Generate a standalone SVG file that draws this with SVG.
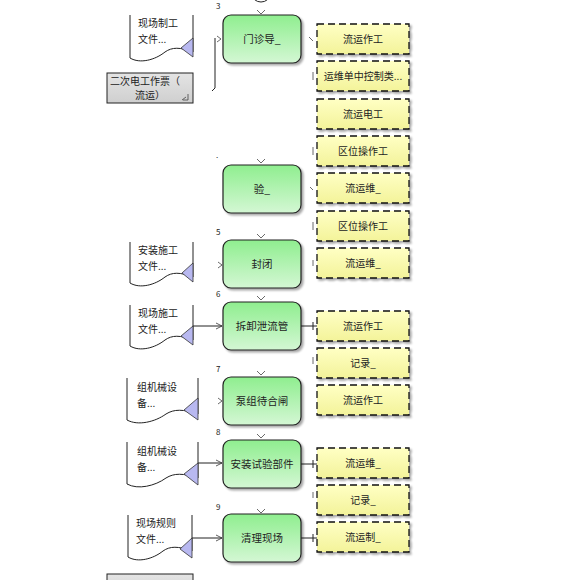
<svg xmlns="http://www.w3.org/2000/svg" width="580" height="580" viewBox="0 0 580 580">
<defs>
<linearGradient id="gGreen" x1="0" y1="0" x2="0" y2="1"><stop offset="0" stop-color="#8fee8f"/><stop offset="1" stop-color="#d4f7d4"/></linearGradient>
<linearGradient id="gYel" x1="0" y1="0" x2="0" y2="1"><stop offset="0" stop-color="#ffffc4"/><stop offset="1" stop-color="#f3f39a"/></linearGradient>
<linearGradient id="gGrey" x1="0" y1="0" x2="0" y2="1"><stop offset="0" stop-color="#e4e4e4"/><stop offset="1" stop-color="#cfcfcf"/></linearGradient>
<filter id="sh" x="-10%" y="-10%" width="130%" height="130%"><feGaussianBlur in="SourceAlpha" stdDeviation="1.2"/><feOffset dx="2" dy="2"/><feComponentTransfer><feFuncA type="linear" slope="0.35"/></feComponentTransfer><feMerge><feMergeNode/><feMergeNode in="SourceGraphic"/></feMerge></filter>
<marker id="arr" markerWidth="8" markerHeight="8" refX="7" refY="4" orient="auto" markerUnits="userSpaceOnUse"><path d="M1,1 L7,4 L1,7" fill="none" stroke="#333" stroke-width="0.8"/></marker>
</defs>
<style>
text{font-family:"Noto Sans CJK SC","Liberation Sans",sans-serif;fill:#222}
.task{fill:url(#gGreen);stroke:#222;stroke-width:1.2;filter:url(#sh)}
.role{fill:url(#gYel);stroke:#111;stroke-width:1.3;stroke-dasharray:7,4;filter:url(#sh)}
.doc{fill:#fff;stroke:#222;stroke-width:1}
.tri{fill:#b8b8f0;stroke:#333;stroke-width:0.8}
.grey{fill:url(#gGrey);stroke:#222;stroke-width:1}
.lbl{font-size:10.5px;text-anchor:middle}
.rl{font-size:10px;text-anchor:middle}
.dt{font-size:10px}
.num{font-size:8px}
.ln{fill:none;stroke:#222;stroke-width:1}
.tick{fill:none;stroke:#444;stroke-width:0.8}
</style>

<ellipse cx="261" cy="-6" rx="9" ry="8" fill="#fff" stroke="#222" stroke-width="1"/>

<g id="connectors">
<path class="ln" d="M215,38 V88 L212,91"/>
<path class="ln" d="M193,326 H222" marker-end="url(#arr)"/>
<path class="ln" d="M198,463 H222" marker-end="url(#arr)"/>
<path class="ln" d="M192,538 H222" marker-end="url(#arr)"/>
<path class="ln" d="M301,326 H317 M313,322 V330"/>
<path class="ln" d="M301,464 H317 M313,460 V468"/>
<path class="ln" d="M301,538 H317 M313,534 V542"/>
<path class="tick" d="M257,10 L261,14 L265,10 M257,159 L261,163 L265,159 M257,234 L261,238 L265,234 M257,296 L261,300 L265,296 M257,371 L261,375 L265,371 M257,434 L261,438 L265,434 M257,509 L261,513 L265,509"/>
<path class="tick" d="M217,36 L221,39 L217,42 M218,262 L222,265 L218,268 M218,398 L222,401 L218,404"/>
<path class="tick" d="M309,37 L313,41 M310,187 L313,190 M313,72 V80 M313,147 V155 M313,222 V230 M313,260 V266 M313,357 V364 M313,492 V498"/>
</g>

<g id="n3"><text class="num" x="216" y="9">3</text><rect class="task" x="223" y="15" width="78" height="48" rx="8"/><text class="lbl" x="262" y="43">门诊导_</text></g>
<g id="n4"><text class="num" x="216" y="158">.</text><rect class="task" x="223" y="165" width="78" height="48" rx="8"/><text class="lbl" x="262" y="193">验_</text></g>
<g id="n5"><text class="num" x="216" y="235">5</text><rect class="task" x="223" y="240" width="78" height="48" rx="8"/><text class="lbl" x="262" y="268">封闭</text></g>
<g id="n6"><text class="num" x="216" y="297">6</text><rect class="task" x="223" y="302" width="78" height="48" rx="8"/><text class="lbl" x="262" y="330">拆卸泄流管</text></g>
<g id="n7"><text class="num" x="216" y="372">7</text><rect class="task" x="223" y="377" width="78" height="48" rx="8"/><text class="lbl" x="262" y="405">泵组待合闸</text></g>
<g id="n8"><text class="num" x="216" y="435">8</text><rect class="task" x="223" y="440" width="78" height="48" rx="8"/><text class="lbl" x="262" y="468">安装试验部件</text></g>
<g id="n9"><text class="num" x="216" y="510">9</text><rect class="task" x="223" y="514" width="78" height="48" rx="8"/><text class="lbl" x="262" y="542">清理现场</text></g>

<g id="r1"><rect class="role" x="317" y="24" width="92" height="30"/><text class="rl" x="363" y="43">流运作工</text></g>
<g id="r2"><rect class="role" x="317" y="61" width="92" height="30"/><text class="rl" x="363" y="80">运维单中控制类...</text></g>
<g id="r3"><rect class="role" x="317" y="99" width="92" height="30"/><text class="rl" x="363" y="118">流运电工</text></g>
<g id="r4"><rect class="role" x="317" y="136" width="92" height="30"/><text class="rl" x="363" y="155">区位操作工</text></g>
<g id="r5"><rect class="role" x="317" y="173" width="92" height="30"/><text class="rl" x="363" y="192">流运维_</text></g>
<g id="r6"><rect class="role" x="317" y="211" width="92" height="30"/><text class="rl" x="363" y="230">区位操作工</text></g>
<g id="r7"><rect class="role" x="317" y="248" width="92" height="30"/><text class="rl" x="363" y="267">流运维_</text></g>
<g id="r8"><rect class="role" x="317" y="311" width="92" height="30"/><text class="rl" x="363" y="330">流运作工</text></g>
<g id="r9"><rect class="role" x="317" y="348" width="92" height="30"/><text class="rl" x="363" y="367">记录_</text></g>
<g id="r10"><rect class="role" x="317" y="385" width="92" height="30"/><text class="rl" x="363" y="404">流运作工</text></g>
<g id="r11"><rect class="role" x="317" y="448" width="92" height="30"/><text class="rl" x="363" y="467">流运维_</text></g>
<g id="r12"><rect class="role" x="317" y="485" width="92" height="30"/><text class="rl" x="363" y="504">记录_</text></g>
<g id="r13"><rect class="role" x="317" y="522" width="92" height="30"/><text class="rl" x="363" y="541">流运制_</text></g>

<g id="d1"><path class="doc" d="M130,15 V58 C140,64 155,60 165,52 C172,47 180,47 193,52 V15"/><path class="tri" d="M181,48 L193,38 L193,57 Z"/><text class="dt" x="138" y="27">现场制工</text><text class="dt" x="138" y="43">文件...</text></g>
<g id="g1"><rect class="grey" x="107" y="73" width="86" height="30"/><text class="dt" x="110" y="85">二次电工作票（</text><text class="dt" x="150" y="99" text-anchor="middle">流运）</text><path class="tick" d="M183,100 H188 V94 M186,97 L182,100"/></g>
<g id="d5"><path class="doc" d="M130,242 V283 C140,289 155,285 165,277 C172,272 180,272 193,277 V242"/><path class="tri" d="M182,273 L193,263 L193,282 Z"/><text class="dt" x="138" y="254">安装施工</text><text class="dt" x="138" y="270">文件...</text></g>
<g id="d6"><path class="doc" d="M130,305 V346 C140,352 155,348 165,340 C172,335 180,335 193,340 V305"/><path class="tri" d="M181,336 L193,326 L193,345 Z"/><text class="dt" x="138" y="317">现场施工</text><text class="dt" x="138" y="333">文件...</text></g>
<g id="d7"><path class="doc" d="M127,378 V420 C138,426 155,422 166,414 C174,409 183,409 198,414 V378"/><path class="tri" d="M184,410 L198,398 L198,420 Z"/><text class="dt" x="137" y="391">组机械设</text><text class="dt" x="137" y="407">备...</text></g>
<g id="d8"><path class="doc" d="M127,442 V484 C138,490 155,486 166,478 C174,473 183,473 198,478 V442"/><path class="tri" d="M184,474 L198,463 L198,485 Z"/><text class="dt" x="137" y="455">组机械设</text><text class="dt" x="137" y="471">备...</text></g>
<g id="d9"><path class="doc" d="M128,515 V557 C138,563 153,559 163,551 C170,546 178,546 192,551 V515"/><path class="tri" d="M180,549 L192,538 L192,558 Z"/><text class="dt" x="136" y="527">现场规则</text><text class="dt" x="136" y="543">文件...</text></g>
<g id="g2"><rect class="grey" x="107" y="574" width="86" height="30"/></g>
</svg>
